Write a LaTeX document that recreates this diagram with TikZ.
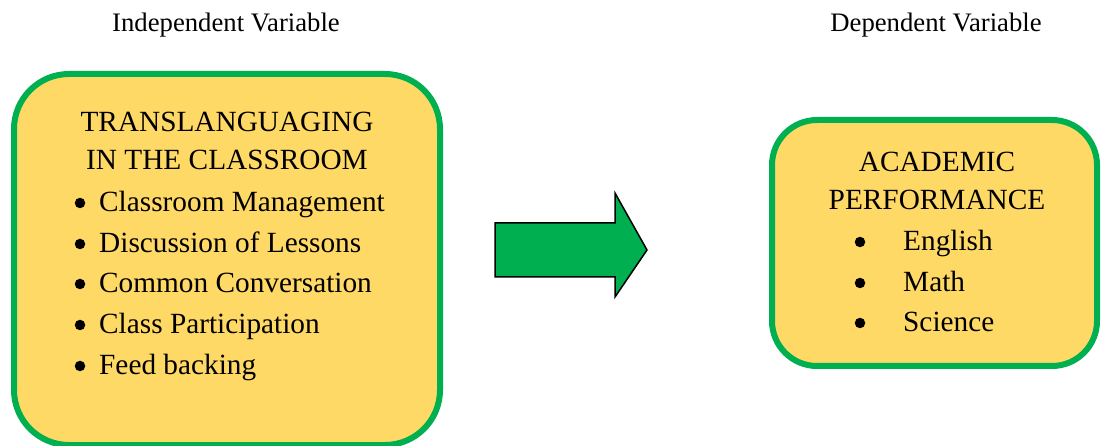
\documentclass[tikz,border=0pt]{standalone}
\usepackage{fontspec}
\setmainfont{Liberation Serif}
\definecolor{boxfill}{HTML}{FFD966}
\definecolor{boxline}{HTML}{00B050}
\definecolor{arrowfill}{HTML}{00B050}
\tikzset{
  panel/.style={draw=boxline, line width=6pt, fill=boxfill, rounded corners=#1},
  heading/.style={anchor=base, inner sep=0pt, font=\fontsize{26.7}{30}\selectfont},
  boxtext/.style={anchor=base, inner sep=0pt, font=\fontsize{29.3}{34}\selectfont},
  itemtext/.style={anchor=base west, inner sep=0pt, font=\fontsize{29.3}{34}\selectfont},
  dot/.style={circle, fill=black, inner sep=0pt, minimum size=10.5pt},
  blockarrow/.style={draw=black, line width=1.5pt, fill=arrowfill, line join=miter}
}
\begin{document}
\begin{tikzpicture}[x=1pt,y=-1pt]
\useasboundingbox (0,0) rectangle (1101,446);
% headings
\node[heading] (hIV) at (226,32) {Independent Variable};
\node[heading] (hDV) at (936,32) {Dependent Variable};
% left panel
\draw[panel=55pt] (14,74) rectangle (440,445);
\node[boxtext] (t1) at (227,132) {TRANSLANGUAGING};
\node[boxtext] (t2) at (227,170) {IN THE CLASSROOM};
\foreach \y/\txt/\nm in {212/Classroom Management/a, 253/Discussion of Lessons/b, 293/Common Conversation/c, 334/Class Participation/d, 375/Feed backing/e}{
  \node[dot] (lb\nm) at (80,\y-9) {};
  \node[itemtext] (li\nm) at (99,\y) {\txt};
}
% block arrow
\draw[blockarrow] (495,223) -- (615,223) -- (615,193) -- (647,250) -- (615,297) -- (615,277) -- (495,277) -- cycle;
% right panel
\draw[panel=45pt] (772,120) rectangle (1097,366);
\node[boxtext] (r1) at (937,172) {ACADEMIC};
\node[boxtext] (r2) at (937,210) {PERFORMANCE};
\foreach \y/\txt/\nm in {251/English/a, 292/Math/b, 332/Science/c}{
  \node[dot] (rb\nm) at (860,\y-9) {};
  \node[itemtext] (ri\nm) at (903,\y) {\txt};
}
\end{tikzpicture}
\end{document}
